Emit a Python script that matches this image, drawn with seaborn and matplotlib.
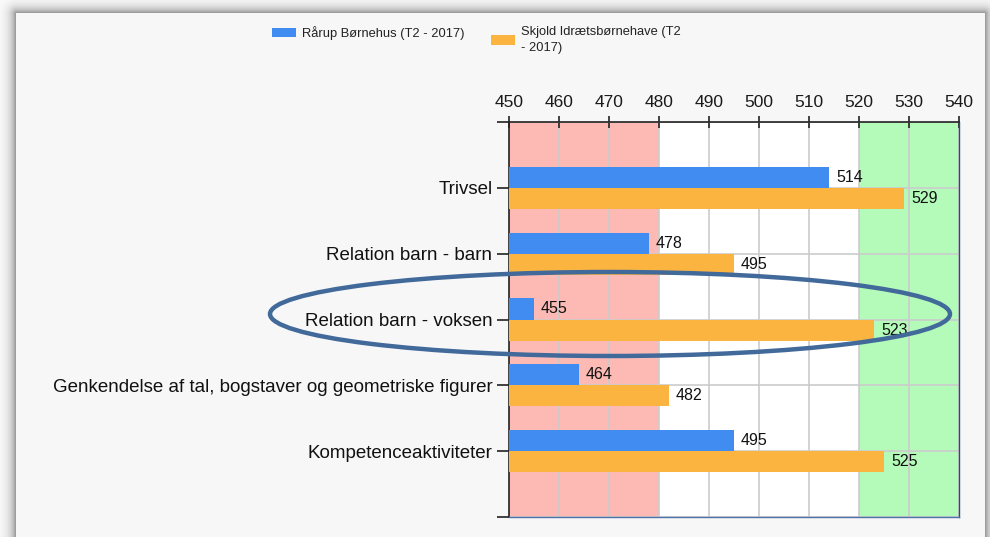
import numpy as np
import pandas as pd
import matplotlib
matplotlib.use("Agg")
import matplotlib.pyplot as plt
import seaborn as sns
from matplotlib.patches import Ellipse, Patch

# ---------------- data ----------------
categories = [
    "Trivsel",
    "Relation barn - barn",
    "Relation barn - voksen",
    "Genkendelse af tal, bogstaver og geometriske figurer",
    "Kompetenceaktiviteter",
]
series_names = ["Rårup Børnehus (T2 - 2017)", "Skjold Idrætsbørnehave (T2\n- 2017)"]
raarup = [514, 478, 455, 464, 495]
skjold = [529, 495, 523, 482, 525]
x_ticks = [450, 460, 470, 480, 490, 500, 510, 520, 530, 540]
low_band = (450, 480)
high_band = (520, 540)

colors = ["#418CF0", "#FCB441"]

df = pd.DataFrame({
    "Kategori": categories * 2,
    "Score": raarup + skjold,
    "Serie": [series_names[0]] * len(categories) + [series_names[1]] * len(categories),
})

sns.set_theme(style="white")
plt.rcParams["font.family"] = ["Liberation Sans", "DejaVu Sans"]

W, H = 990, 537
fig = plt.figure(figsize=(W / 100, H / 100), dpi=100)
fig.patch.set_facecolor("white")

# ---------------- framed background with shadow ----------------
bg = fig.add_axes([0, 0, 1, 1], zorder=-10)
yy, xx = np.mgrid[0:H, 0:W]
px0, px1, py0, py1 = 16, 984, 13, 560
dx = np.maximum(np.maximum(px0 - xx, xx - px1), 0)
dy = np.maximum(np.maximum(py0 - yy, yy - py1), 0)
d = np.sqrt(dx ** 2 + dy ** 2)
shade = 1 - 0.45 * np.exp(-d / 6.0)
inside = (dx == 0) & (dy == 0)
shade[inside] = 0.972
img = np.dstack([shade, shade, shade])
bg.imshow(img, extent=(0, W, H, 0), aspect="auto", interpolation="nearest")
bg.set_xlim(0, W)
bg.set_ylim(H, 0)
bg.axis("off")

# ---------------- main chart ----------------
ax = fig.add_axes([509 / W, 1 - 517 / H, 450 / W, 395 / H])
ax.set_facecolor("white")
ax.axvspan(*low_band, color="#FDBAB4", zorder=0.2, lw=0)
ax.axvspan(*high_band, color="#B4FBB9", zorder=0.2, lw=0)

sns.barplot(data=df, y="Kategori", x="Score", hue="Serie", palette=colors,
            orient="h", width=0.64, ax=ax, legend=False, saturation=1,
            zorder=3, linewidth=0)

for cont in ax.containers:
    ax.bar_label(cont, fmt="{:.0f}", padding=5, fontsize=11.5, color="#111111")

ax.set_xlim(x_ticks[0], x_ticks[-1])
ax.set_xticks(x_ticks)
ax.xaxis.tick_top()
ax.set_yticks(range(-1, len(categories) + 1))
ax.set_yticklabels([""] + categories + [""])
ax.set_ylim(len(categories), -1)
ax.set_xlabel("")
ax.set_ylabel("")

ax.set_axisbelow(True)
ax.grid(True, axis="both", color="#CCCCCC", lw=1.2, zorder=0.5)

ax.tick_params(axis="x", direction="inout", length=8, width=1.2, color="#222222",
               labelsize=12.5, labelcolor="#1a1a1a", pad=5, top=True, bottom=False)
ax.tick_params(axis="y", direction="out", length=9, width=1.2, color="#222222",
               labelsize=13.5, labelcolor="#111111", pad=3, left=True)

for s in ["top", "left"]:
    ax.spines[s].set_color("#222222")
    ax.spines[s].set_linewidth(1.2)
ax.spines["right"].set_color("#2B4B7A")
ax.spines["right"].set_linewidth(1.0)
ax.spines["bottom"].set_color("#4F72A8")
ax.spines["bottom"].set_linewidth(1.0)

# ---------------- legend ----------------
lfs = 9.3
common = dict(loc="upper left", frameon=False, fontsize=lfs, borderpad=0,
              handlelength=1.85, handleheight=0.75, handletextpad=0.5,
              borderaxespad=0, labelcolor="#222222")
leg1 = fig.legend(handles=[Patch(fc=colors[0], ec="none")], labels=[series_names[0]],
                  bbox_to_anchor=(272 / W, 1 - 26 / H), **common)
leg2 = fig.legend(handles=[Patch(fc=colors[1], ec="none")], labels=[series_names[1]],
                  bbox_to_anchor=(491 / W, 1 - 26 / H), **common)
for t in leg2.get_texts():
    t.set_linespacing(1.45)

# ---------------- highlight ellipse ----------------
ell = Ellipse((610 / W, 1 - 314 / H), 680 / W, 84 / H, transform=fig.transFigure,
              fill=False, ec="#41699A", lw=3.2, zorder=5)
fig.add_artist(ell)

fig.savefig("out.png", dpi=100)
